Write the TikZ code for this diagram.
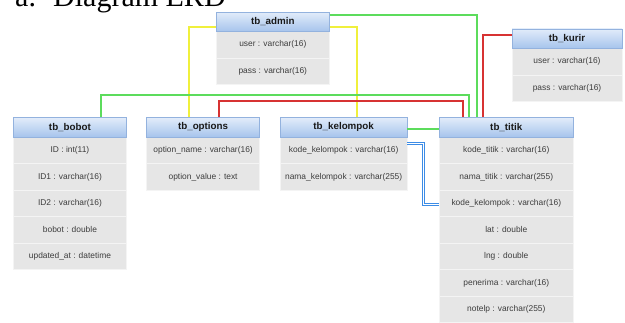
\documentclass[tikz,border=0pt]{standalone}
\usepackage{fontspec}
\setmainfont{Liberation Sans}
\newfontfamily\titlefont{Liberation Serif}
\usetikzlibrary{shadings}
\definecolor{hdrtop}{RGB}{226,236,250}
\definecolor{hdrbot}{RGB}{166,196,236}
\definecolor{hdrline}{RGB}{147,178,222}
\definecolor{rowgray}{RGB}{230,230,230}
\definecolor{rowline}{RGB}{244,244,244}
\definecolor{rowtext}{RGB}{60,60,60}
\definecolor{connyellow}{RGB}{240,240,60}
\definecolor{conngreen}{RGB}{92,220,92}
\definecolor{connred}{RGB}{215,50,50}
\definecolor{connblue}{RGB}{60,140,230}
\tikzset{
  hdr/.style={rectangle, inner sep=0pt, minimum height=19.5pt, top color=hdrtop, bottom color=hdrbot, draw=hdrline, line width=0.6pt, text=black!90, font=\fontsize{9.8}{11}\selectfont\bfseries},
  rowbox/.style={rectangle, inner sep=0pt, minimum height=26.5pt, fill=rowgray, draw=rowline, line width=0.6pt, text=rowtext, font=\fontsize{8.4}{10}\selectfont},
  yelline/.style={line width=1.5pt, color=connyellow},
  grnline/.style={line width=1.5pt, color=conngreen},
  redline/.style={line width=1.5pt, color=connred},
  bluline/.style={line width=0.8pt, color=connblue, double=white, double distance=1.2pt},
}
\newcommand\erdtab[5]{%
  \node[hdr, minimum width=#4pt, anchor=north west] (#1) at (#2,#3) {#5};
}
\newcommand\erdrows[5]{%
  \foreach \r [count=\i] in {#5} {
    \node[rowbox, minimum width=#4pt, anchor=north west] (#1-\i) at ({#2},{#3+19.5+(\i-1)*26.5}) {\r};
  }
}
\begin{document}
\begin{tikzpicture}[x=1pt,y=-1pt]
\useasboundingbox (0,0) rectangle (625,322);
\clip (0,0) rectangle (625,322);

% title
\node[anchor=base west, inner sep=0pt, font=\titlefont\fontsize{30}{32}\selectfont] (ta) at (15,6) {a.};
\node[anchor=base west, inner sep=0pt, font=\titlefont\fontsize{30}{32}\selectfont] (tb) at (53,6) {Diagram ERD};

% tables
\erdrows{admin}{216}{11.7}{113}{user : varchar(16), pass : varchar(16)}
\erdtab{admin}{216}{11.7}{113}{tb\_admin}

\erdrows{kurir}{511.7}{28.5}{110}{user : varchar(16), pass : varchar(16)}
\erdtab{kurir}{511.7}{28.5}{110}{tb\_kurir}

\erdrows{bobot}{13.3}{117.3}{112.7}{ID : int(11), ID1 : varchar(16), ID2 : varchar(16), bobot : double, updated\_at : datetime}
\erdtab{bobot}{13.3}{117.3}{112.7}{tb\_bobot}

\erdrows{options}{146.3}{117.3}{113}{option\_name : varchar(16), option\_value : text}
\erdtab{options}{146.3}{117.3}{113}{tb\_options}

\erdrows{kelompok}{280}{117.3}{126.7}{kode\_kelompok : varchar(16), nama\_kelompok : varchar(255)}
\erdtab{kelompok}{280}{117.3}{126.7}{tb\_kelompok}

\erdrows{titik}{439.3}{117.3}{133.4}{kode\_titik : varchar(16), nama\_titik : varchar(255), kode\_kelompok : varchar(16), lat : double, lng : double, penerima : varchar(16), notelp : varchar(255)}
\erdtab{titik}{439.3}{117.3}{133.4}{tb\_titik}

% connectors
\draw[yelline] (options.north -| 189,0) |- (admin.west |- 0,27);
\draw[yelline] (admin.east |- 0,27) -| (kelompok.north -| 357,0);
\draw[grnline] (admin.east |- 0,15) -| (titik.north -| 477,0);
\draw[grnline] (bobot.north -| 101,0) -- (101,95) -| (titik.north -| 469,0);
\draw[redline] (options.north -| 219,0) -- (219,101) -| (titik.north -| 463,0);
\draw[redline] (kurir.west |- 0,35) -| (titik.north -| 483,0);
\draw[grnline] (kelompok.east |- 0,129) -- (titik.west |- 0,129);
\draw[bluline] (kelompok-1.east |- 0,143.5) -- (423.5,143.5) -- (423.5,204.5) -- (titik-3.west |- 0,204.5);
\end{tikzpicture}
\end{document}
